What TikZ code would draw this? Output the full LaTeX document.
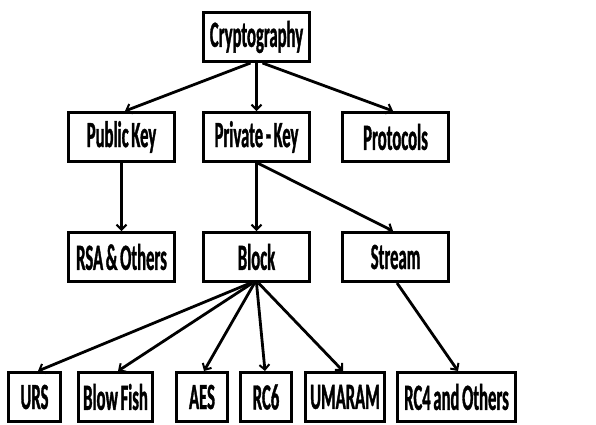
\documentclass[tikz,border=0pt]{standalone}
\usepackage{fontspec}
\setmainfont{Carlito}[FakeStretch=0.45,FakeBold=0.9,WordSpace=0.7]
\usetikzlibrary{arrows.meta}
\begin{document}
\begin{tikzpicture}[x=1pt,y=-1pt,
  box/.style={draw=black,line width=3pt,minimum height=49pt,inner sep=0pt,
    font=\fontsize{37}{39}\selectfont\bfseries},
  conn/.style={line width=2.8pt,-{Straight Barb[length=5pt,width=10pt,line width=2pt]}}]
\useasboundingbox (0,0) rectangle (596,424);
\node[box,minimum width=106pt] (crypto) at (256.5,37) {Cryptography};
\node[box,minimum width=106pt] (pub) at (121.5,137) {Public Key};
\node[box,minimum width=106pt] (priv) at (256.5,137) {Private - Key};
\node[box,minimum width=106pt] (proto) at (395.5,137) {Protocols};
\node[box,minimum width=106pt] (rsa) at (121.5,257) {RSA \& Others};
\node[box,minimum width=106pt] (block) at (256.5,257) {Block};
\node[box,minimum width=106pt] (stream) at (395.5,257) {Stream};
\node[box,minimum width=52pt] (urs) at (34.5,397) {URS};
\node[box,minimum width=74pt] (blow) at (115.5,397) {Blow Fish};
\node[box,minimum width=51pt] (aes) at (202,397) {AES};
\node[box,minimum width=51pt] (rc6) at (266,397) {RC6};
\node[box,minimum width=79pt] (umaram) at (345,397) {UMARAM};
\node[box,minimum width=118pt] (rc4) at (456.5,397) {RC4 and Others};
\draw[conn] ([xshift=-6pt]crypto.south) -- ([xshift=3.5pt]pub.north);
\draw[conn] (crypto.south) -- (priv.north);
\draw[conn] ([xshift=6pt]crypto.south) -- ([xshift=-2.5pt]proto.north);
\draw[conn] (pub.south) -- (rsa.north);
\draw[conn] (priv.south) -- (block.north);
\draw[conn] ([xshift=1pt]priv.south) -- ([xshift=-2.5pt]stream.north);
\draw[conn] ([xshift=-6pt]block.south) -- ([xshift=3.5pt]urs.north);
\draw[conn] ([xshift=-4pt]block.south) -- ([xshift=2.5pt]blow.north);
\draw[conn] ([xshift=-2pt]block.south) -- ([xshift=2pt]aes.north);
\draw[conn] ([xshift=0pt]block.south) -- ([xshift=-1pt]rc6.north);
\draw[conn] ([xshift=2pt]block.south) -- ([xshift=-2pt]umaram.north);
\draw[conn] ([xshift=1.5pt]stream.south) -- ([xshift=1.5pt]rc4.north);
\end{tikzpicture}
\end{document}
